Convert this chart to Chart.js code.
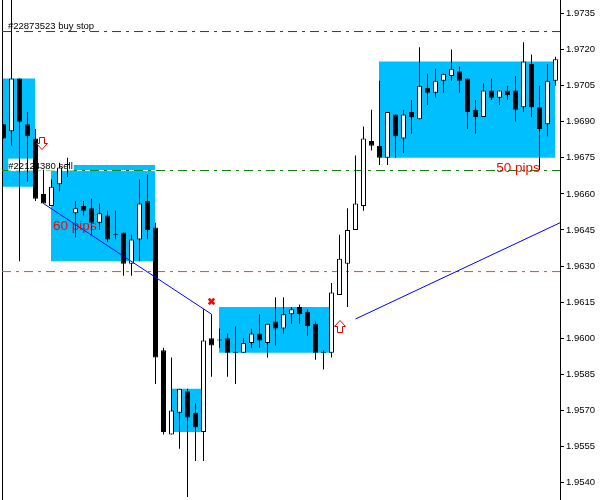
<!DOCTYPE html>
<html lang="en">

<head>
  <meta charset="UTF-8">
  <title>Chart with trade boxes</title>
  <script src="https://cdn.jsdelivr.net/npm/chart.js"></script>
  <style>
    body {
      margin: 0;
      background: #ffffff;
    }

    #priceChart {
      display: block;
    }
  </style>
</head>

<body>

  <canvas id="priceChart" width="600" height="500"></canvas>

  <script>
    const opens = [1.9689, 1.9686, 1.9708, 1.9689, 1.9683, 1.9660, 1.9655, 1.9664, 1.9672, 1.9652,
      1.9655, 1.9654, 1.9648, 1.9651, 1.9643, 1.9644, 1.9631, 1.9641, 1.9657, 1.9646,
      1.9595, 1.9560, 1.9569, 1.9578, 1.9569, 1.9561, 1.9600, 1.9599, 1.9600, 1.9594,
      1.9594, 1.9598, 1.9602, 1.9598, 1.9607, 1.9604, 1.9610, 1.9613, 1.9611, 1.9606,
      1.9594, 1.9594, 1.9618, 1.9631, 1.9645, 1.9655, 1.9682, 1.9680, 1.9675, 1.9693,
      1.9683, 1.9694, 1.9691, 1.9704, 1.9702, 1.9707, 1.9709, 1.9711, 1.9708, 1.9695,
      1.9692, 1.9703, 1.9700, 1.9703, 1.9703, 1.9696, 1.9714, 1.9696, 1.9689, 1.9707];
    const highs = [1.9689, 1.9745, 1.9708, 1.9694, 1.9687, 1.9670, 1.9666, 1.9673, 1.9675, 1.9657,
      1.9657, 1.9658, 1.9656, 1.9653, 1.9653, 1.9644, 1.9643, 1.9666, 1.9668, 1.9648,
      1.9596, 1.9592, 1.9579, 1.9579, 1.9573, 1.9612, 1.9610, 1.9604, 1.9602, 1.9605,
      1.9600, 1.9604, 1.9610, 1.9606, 1.9617, 1.9617, 1.9613, 1.9614, 1.9612, 1.9607,
      1.9595, 1.9623, 1.9643, 1.9654, 1.9676, 1.9688, 1.9695, 1.9707, 1.9694, 1.9693,
      1.9695, 1.9699, 1.9721, 1.9710, 1.9712, 1.9710, 1.9720, 1.9713, 1.9708, 1.9699,
      1.9706, 1.9708, 1.9703, 1.9705, 1.9709, 1.9723, 1.9718, 1.9705, 1.9714, 1.9717];
    const lows = [1.9683, 1.9680, 1.9632, 1.9665, 1.9657, 1.9656, 1.9655, 1.9661, 1.9667, 1.9642,
      1.9651, 1.9643, 1.9645, 1.9640, 1.9641, 1.9626, 1.9626, 1.9632, 1.9641, 1.9581,
      1.9560, 1.9560, 1.9554, 1.9534, 1.9549, 1.9549, 1.9584, 1.9596, 1.9584, 1.9581,
      1.9594, 1.9596, 1.9596, 1.9592, 1.9597, 1.9602, 1.9606, 1.9606, 1.9601, 1.9591,
      1.9587, 1.9592, 1.9618, 1.9613, 1.9645, 1.9653, 1.9678, 1.9672, 1.9672, 1.9675,
      1.9677, 1.9685, 1.9691, 1.9697, 1.9700, 1.9702, 1.9707, 1.9702, 1.9687, 1.9685,
      1.9692, 1.9699, 1.9697, 1.9699, 1.9690, 1.9694, 1.9692, 1.9670, 1.9684, 1.9705];
    const closes = [1.9683, 1.9708, 1.9690, 1.9684, 1.9658, 1.9656, 1.9663, 1.9671, 1.9672, 1.9654,
      1.9653, 1.9648, 1.9652, 1.9641, 1.9643, 1.9631, 1.9641, 1.9656, 1.9645, 1.9592,
      1.9561, 1.9570, 1.9579, 1.9567, 1.9563, 1.9599, 1.9597, 1.9599, 1.9594, 1.9594,
      1.9598, 1.9602, 1.9599, 1.9606, 1.9604, 1.9610, 1.9612, 1.9610, 1.9605, 1.9594,
      1.9594, 1.9619, 1.9633, 1.9645, 1.9656, 1.9683, 1.9680, 1.9675, 1.9694, 1.9684,
      1.9693, 1.9692, 1.9705, 1.9702, 1.9707, 1.9710, 1.9712, 1.9707, 1.9694, 1.9692,
      1.9703, 1.9700, 1.9703, 1.9701, 1.9695, 1.9715, 1.9696, 1.9687, 1.9707, 1.9716];

    const priceTicks = [1.9735, 1.9720, 1.9705, 1.9690, 1.9675, 1.9660, 1.9645, 1.9630,
      1.9615, 1.9600, 1.9585, 1.9570, 1.9555, 1.9540];

    // trade boxes, first and last candle plus price range
    const boxStart = [0, 6, 21, 27, 47];
    const boxEnd = [4, 19, 25, 41, 69];
    const boxTop = [1.9708, 1.9672, 1.9579, 1.9613, 1.9715];
    const boxBottom = [1.9663, 1.9632, 1.9561, 1.9594, 1.9675];

    // order levels
    const levelPrices = [1.97275, 1.96697, 1.96277];
    const levelColors = ['#006400', '#008000', '#ff4500'];

    // trend lines, [candle, price] at both ends
    const trendFrom = [[5, 1.9656], [44, 1.9608]];
    const trendTo = [[26, 1.9610], [69.5625, 1.9648]];

    const sellArrow = { x: 4.8125, y: 1.968095 };
    const buyArrow = { x: 42.0625, y: 1.960487 };
    const closeMark = { x: 26, y: 1.96153 };

    const ticketLabels = [
      { text: '#22873523 buy stop', x: 0.56, y: 1.97285, font: '9.5px "Liberation Sans"', color: '#000000' },
      { text: '60 pips', x: 6.2, y: 1.96450, font: '13.5px "Liberation Sans"', color: '#ff0000' },
      { text: '50 pips', x: 61.6, y: 1.96689, font: '13.5px "Liberation Sans"', color: '#ff0000' }
    ];
    const sellLabel = { text: '#22124380 sell', x: 0.6, y: 1.96705, font: '9.5px "Liberation Sans"', color: '#000000' };

    const xMin = -0.1875;
    const xMax = 69.5625;
    const yMax = 1.974061;
    const yMin = 1.953274;
    const halfPixel = 0.0625; // boxes start on a pixel edge, candles on a pixel centre

    function noPadding(scale) {
      scale.paddingTop = 0;
      scale.paddingBottom = 0;
      scale.paddingLeft = 0;
      scale.paddingRight = 0;
    }

    function makeArrow(up) {
      const c = document.createElement('canvas');
      c.width = 12;
      c.height = 13;
      const g = c.getContext('2d');
      const shape = [[3.5, 0.5], [8.5, 0.5], [8.5, 6.5], [11.5, 6.5], [6, 12.5], [0.5, 6.5], [3.5, 6.5]];
      g.beginPath();
      shape.forEach(([px, py], i) => {
        const yy = up ? 13 - py : py;
        if (i === 0) g.moveTo(px, yy);
        else g.lineTo(px, yy);
      });
      g.closePath();
      g.fillStyle = '#ffffff';
      g.fill();
      g.strokeStyle = '#e00000';
      g.lineWidth = 1;
      g.stroke();
      return c;
    }

    const candleIndex = opens.map((_, i) => i);

    const boxDatasets = boxStart.map((start, i) => ({
      type: 'line',
      data: [
        { x: start - halfPixel, y: boxTop[i] },
        { x: boxEnd[i] - halfPixel, y: boxTop[i] }
      ],
      borderWidth: 0,
      pointRadius: 0,
      backgroundColor: '#00bfff',
      fill: { value: boxBottom[i] },
      order: 10
    }));

    const levelDatasets = levelPrices.map((price, i) => ({
      type: 'line',
      data: [{ x: xMin, y: price }, { x: xMax, y: price }],
      borderColor: levelColors[i],
      borderWidth: 1,
      borderDash: [9, 5, 3, 5],
      pointRadius: 0,
      fill: false,
      order: 8
    }));

    // the dashed level has a white gap colour where it crosses a box
    const levelBacking = {
      type: 'line',
      data: [{ x: xMin, y: levelPrices[1] }, { x: xMax, y: levelPrices[1] }],
      borderColor: '#ffffff',
      borderWidth: 1,
      pointRadius: 0,
      fill: false,
      order: 9
    };

    const trendDatasets = trendFrom.map((from, i) => ({
      type: 'line',
      data: [
        { x: from[0], y: from[1] },
        { x: trendTo[i][0], y: trendTo[i][1] }
      ],
      borderColor: '#0000ff',
      borderWidth: 1,
      pointRadius: 0,
      fill: false,
      order: 3
    }));

    const wickDataset = {
      type: 'bar',
      data: candleIndex.map(i => ({ x: i, y: [lows[i], highs[i]] })),
      backgroundColor: '#000000',
      borderWidth: 0,
      barThickness: 1,
      inflateAmount: 0,
      grouped: false,
      order: 5
    };

    const bodyDataset = {
      type: 'bar',
      data: candleIndex.map(i => ({ x: i, y: [opens[i], closes[i]] })),
      backgroundColor: candleIndex.map(i => closes[i] > opens[i] ? '#ffffff' : '#000000'),
      borderColor: '#000000',
      borderWidth: 1,
      borderSkipped: false,
      barThickness: 5,
      minBarLength: 1,
      inflateAmount: 0,
      grouped: false,
      order: 4
    };

    const markDataset = {
      type: 'line',
      data: [sellArrow, buyArrow, closeMark],
      showLine: false,
      pointStyle: [makeArrow(false), makeArrow(true), 'crossRot'],
      pointRadius: [6, 6, 4],
      pointBorderColor: '#ff0000',
      pointBorderWidth: [1, 1, 2.5],
      order: 1
    };

    function drawLabel(chart, label, backing) {
      const ctx = chart.ctx;
      const px = chart.scales.x.getPixelForValue(label.x);
      const py = chart.scales.y.getPixelForValue(label.y);
      ctx.save();
      ctx.font = label.font;
      ctx.textBaseline = 'alphabetic';
      if (backing) {
        ctx.fillStyle = '#ffffff';
        ctx.fillRect(px, py - 10, ctx.measureText(label.text).width + 1, 12);
      }
      ctx.fillStyle = label.color;
      ctx.fillText(label.text, px, py);
      ctx.restore();
    }

    const labelPlugin = {
      id: 'ticketLabels',
      beforeDatasetDraw(chart, args) {
        if (chart.data.datasets[args.index] === wickDataset) drawLabel(chart, sellLabel, true);
      },
      afterDatasetsDraw(chart) {
        ticketLabels.forEach(label => drawLabel(chart, label, false));
      }
    };

    new Chart(document.getElementById('priceChart').getContext('2d'), {
      type: 'bar',
      data: {
        datasets: [...boxDatasets, levelBacking, ...levelDatasets, wickDataset, bodyDataset, ...trendDatasets, markDataset]
      },
      plugins: [labelPlugin],
      options: {
        responsive: false,
        animation: false,
        layout: { padding: 0, autoPadding: false },
        plugins: {
          legend: { display: false },
          title: { display: false },
          tooltip: { enabled: false }
        },
        scales: {
          x: {
            type: 'linear',
            display: false,
            offset: false,
            min: xMin,
            max: xMax,
            afterFit: noPadding
          },
          y: {
            position: 'right',
            min: yMin,
            max: yMax,
            afterBuildTicks: scale => {
              scale.ticks = priceTicks.map(v => ({ value: v }));
            },
            afterFit: scale => {
              noPadding(scale);
              scale.width = 40;
            },
            grid: {
              drawOnChartArea: false,
              drawTicks: true,
              tickLength: 4,
              color: '#000000'
            },
            border: { display: true, color: '#000000', width: 1 },
            ticks: {
              autoSkip: false,
              padding: 2,
              color: '#000000',
              font: { family: '"Liberation Sans"', size: 9.5 },
              callback: v => v.toFixed(4)
            }
          },
          frame: {
            position: 'left',
            min: yMin,
            max: yMax,
            afterFit: scale => {
              noPadding(scale);
              scale.width = 2;
            },
            grid: { display: false, drawTicks: false },
            border: { display: true, color: '#000000', width: 1 },
            ticks: { display: false }
          }
        }
      }
    });
  </script>

</body>

</html>
